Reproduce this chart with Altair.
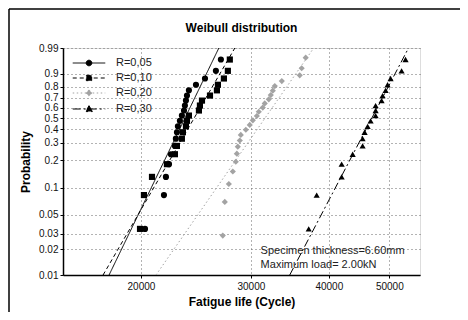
import math
import altair as alt
import pandas as pd

series = ["R=0,05", "R=0,10", "R=0,20", "R=0,30"]
colors = ["#000000", "#000000", "#a3a3a3", "#000000"]
point_shapes = ["circle", "square", "diamond", "triangle-up"]
point_sizes = [38, 38, 24, 38]
dashes = [[1, 0], [4, 3], [1.5, 2.5], [8, 3, 2, 3]]

# plotting positions (probability)
prob_n20 = [0.0343, 0.0833, 0.1324, 0.1814, 0.2304, 0.2794, 0.3284, 0.3775, 0.4265, 0.4755,
            0.5245, 0.5735, 0.6225, 0.6716, 0.7206, 0.7696, 0.8186, 0.8676, 0.9167, 0.9657]
prob_n24 = [0.0287, 0.0697, 0.1107, 0.1516, 0.1926, 0.2336, 0.2746, 0.3156, 0.3566, 0.3975,
            0.4385, 0.4795, 0.5205, 0.5615, 0.6025, 0.6434, 0.6844, 0.7254, 0.7664, 0.8074,
            0.8484, 0.8893, 0.9303, 0.9713]

# fatigue lives (cycles)
life_r005 = [20300, 21770, 21930, 22180, 22340, 22670, 22750, 22840, 22920, 23090,
             23260, 23440, 23520, 23610, 23700, 23870, 24500, 25330, 26370, 26860]
life_r010 = [19930, 20220, 20830, 22010, 22670, 22840, 23260, 23350, 23610, 23700,
             23870, 24770, 24860, 25050, 25800, 26470, 26570, 27160, 27560, 27760]
life_r020 = [27050, 27250, 27660, 28070, 28380, 28490, 28590, 28800, 28910, 29450,
             29880, 30220, 30670, 30890, 31350, 31580, 32050, 32290, 32530, 32770,
             33630, 35930, 36190, 36730]
life_r030 = [37140, 38250, 41940, 41940, 43680, 45310, 45310, 45650, 46160, 46670,
             47540, 47540, 47540, 48600, 48780, 49320, 49680, 50240, 52320, 53090]

# fitted Weibull lines: life at the two probability ends
fit_prob = [0.01, 0.99]
fit_r005 = [17780, 26660]
fit_r010 = [17390, 28280]
fit_r020 = [21140, 37830]
fit_r030 = [34630, 53680]

y_ticks = [0.01, 0.02, 0.03, 0.05, 0.1, 0.2, 0.3, 0.4, 0.5, 0.6, 0.7, 0.8, 0.9, 0.99]
x_ticks = [20000, 30000, 40000, 50000]
x_domain = [15000, 56000]

notes = ["Specimen thickness=6.60mm", "Maximum load= 2.00kN"]

FONT = "Liberation Sans"


def wb(p):
    return math.log(-math.log(1 - p))


pts_rows = []
for name, probs, lives in [(series[0], prob_n20, life_r005), (series[1], prob_n20, life_r010),
                           (series[2], prob_n24, life_r020), (series[3], prob_n20, life_r030)]:
    for p, v in zip(probs, lives):
        pts_rows.append({"series": name, "life": v, "F": p})
points_df = pd.DataFrame(pts_rows)

fit_rows = []
for name, lives in zip(series, [fit_r005, fit_r010, fit_r020, fit_r030]):
    for p, v in zip(fit_prob, lives):
        fit_rows.append({"series": name, "life": v, "F": p})
fit_df = pd.DataFrame(fit_rows)

calc = "log(-log(1 - datum.F))"

x_scale = alt.Scale(type="log", domain=x_domain, nice=False)
y_scale = alt.Scale(domain=[wb(0.01), wb(0.99)], nice=False, zero=False)

x_enc = alt.X("life:Q", scale=x_scale, axis=alt.Axis(
    values=x_ticks, tickCount=len(x_ticks), format="d", title="Fatigue life (Cycle)",
    grid=True, labelOverlap=False,
    gridDash=[1, 3], gridColor="#666", labelFontSize=10, labelFont=FONT, labelColor="#111",
    titleFont=FONT, titleFontSize=12, titleFontWeight="bold", titleColor="#000",
    titlePadding=5, tickSize=3, tickColor="#000", domainColor="#000", domainWidth=1.5,
    labelPadding=3))
y_enc = alt.Y("w:Q", scale=y_scale, axis=alt.Axis(
    values=[wb(t) for t in y_ticks], tickCount=len(y_ticks),
    labelExpr="format(1 - exp(-exp(datum.value)), '.2~f')",
    labelOverlap=False,
    title="Probability", grid=True, gridDash=[1, 3], gridColor="#666", labelFontSize=10,
    labelFont=FONT, labelColor="#111", titleFont=FONT, titleFontSize=12,
    titleFontWeight="bold", titleColor="#000", titlePadding=6, tickSize=3, tickColor="#000",
    domainColor="#000", domainWidth=1.5, labelPadding=2))

color_scale = alt.Scale(domain=series, range=colors)
dash_scale = alt.Scale(domain=series, range=dashes)

lines = alt.Chart(fit_df).transform_calculate(w=calc).mark_line(
    strokeWidth=1, clip=True).encode(
    x=x_enc, y=y_enc,
    color=alt.Color("series:N", scale=color_scale, legend=None),
    strokeDash=alt.StrokeDash("series:N", scale=dash_scale, legend=None),
)

pts = alt.Chart(points_df).transform_calculate(w=calc).mark_point(
    filled=True, opacity=1).encode(
    x=x_enc, y=y_enc,
    color=alt.Color("series:N", scale=color_scale, legend=None),
    shape=alt.Shape("series:N", scale=alt.Scale(domain=series, range=point_shapes), legend=None),
    size=alt.Size("series:N", scale=alt.Scale(domain=series, range=point_sizes), legend=None),
)

legend_paths = [
    "M-2.2,0H2.2M0.4,0L0.28,0.28L0,0.4L-0.28,0.28L-0.4,0L-0.28,-0.28L0,-0.4L0.28,-0.28Z",
    "M-2.2,0H2.2M-0.36,-0.36H0.36V0.36H-0.36Z",
    "M-2.2,0H2.2M0,-0.42L0.42,0L0,0.42L-0.42,0Z",
    "M-2.2,0H2.2M0,-0.45L0.45,0.35H-0.45Z",
]
leg = alt.Legend(orient="none", legendX=18, legendY=7, title=None, padding=0,
                 labelFont=FONT, labelFontSize=11, labelColor="#222", symbolSize=219,
                 symbolStrokeWidth=1, labelOffset=19, rowPadding=2)

legend_layer = alt.Chart(pd.DataFrame({"series": series})).mark_point(
    clip=True, opacity=1, size=219, strokeWidth=1).encode(
    x=alt.value(-400), y=alt.value(-400),
    shape=alt.Shape("series:N", scale=alt.Scale(domain=series, range=legend_paths), legend=leg),
    fill=alt.Fill("series:N", scale=color_scale, legend=leg),
    stroke=alt.Stroke("series:N", scale=color_scale, legend=leg),
    strokeDash=alt.StrokeDash("series:N", scale=dash_scale, legend=leg),
)

text_layer = alt.layer(*[
    alt.Chart(pd.DataFrame({"t": [s]})).mark_text(
        align="left", baseline="middle", font=FONT, fontSize=11, color="#222").encode(
        x=alt.datum(31100), y=alt.datum(wb(pv)), text="t:N")
    for s, pv in zip(notes, [0.0190, 0.0131])
])

# decorative outer frame (left and top edges of the figure box)
frame = alt.layer(
    alt.Chart(pd.DataFrame({"k": [0]})).mark_rule(color="#000", strokeWidth=1.5, clip=False).encode(
        x=alt.value(-54), y=alt.value(-39), y2=alt.value(270)),
    alt.Chart(pd.DataFrame({"k": [0]})).mark_rule(color="#000", strokeWidth=1.5, clip=False).encode(
        x=alt.value(-54), x2=alt.value(400), y=alt.value(-39)),
)

chart = alt.layer(lines, pts, text_layer, frame, legend_layer).resolve_scale(
    shape="independent", strokeDash="independent", fill="independent", stroke="independent",
    size="independent",
).resolve_legend(
    shape="independent", strokeDash="independent", fill="independent", stroke="independent",
    size="independent",
).properties(
    width=357, height=227,
    title=alt.TitleParams("Weibull distribution", font=FONT, fontSize=12, fontWeight="bold",
                          color="#000", offset=-27),
    autosize=alt.AutoSizeParams(type="none"),
    padding={"left": 55, "top": 40, "right": 40, "bottom": 37},
).configure_view(stroke="#555", strokeWidth=1).configure(background="white")

chart.save("out.html", embed_options={"renderer": "svg", "actions": False})
